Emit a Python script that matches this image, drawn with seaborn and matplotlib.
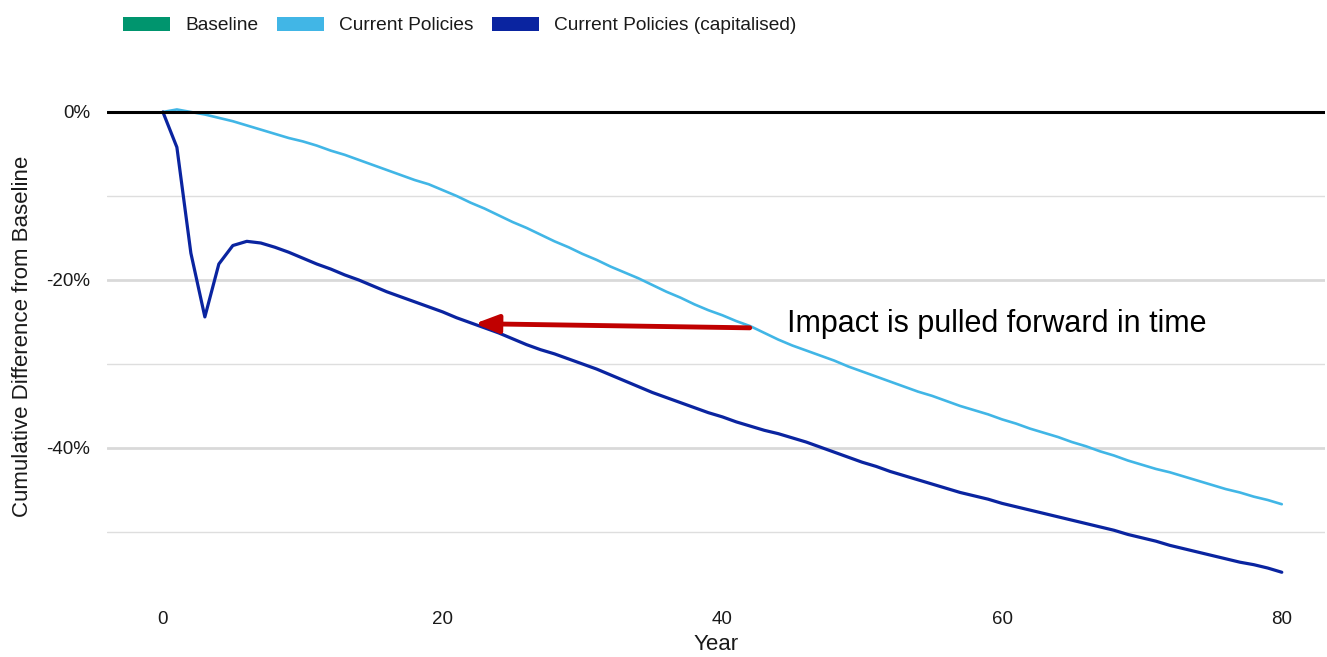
import pandas as pd
import matplotlib.pyplot as plt
import seaborn as sns
from matplotlib.patches import Patch

sns.set_style("white")
plt.rcParams["font.family"] = ["Liberation Sans", "DejaVu Sans"]

# ---- data ----
years = list(range(81))

baseline = [0.0] * 81

current = [0.0, 0.3, 0.0, -0.3, -0.7, -1.1, -1.6, -2.1, -2.6, -3.1,
           -3.5, -4.0, -4.6, -5.1, -5.7, -6.3, -6.9, -7.5, -8.1, -8.6,
           -9.3, -10.0, -10.8, -11.5, -12.3, -13.1, -13.8, -14.6, -15.4, -16.1,
           -16.9, -17.6, -18.4, -19.1, -19.8, -20.6, -21.4, -22.1, -22.9, -23.6,
           -24.2, -24.9, -25.5, -26.3, -27.1, -27.8, -28.4, -29.0, -29.6, -30.3,
           -30.9, -31.5, -32.1, -32.7, -33.3, -33.8, -34.4, -35.0, -35.5, -36.0,
           -36.6, -37.1, -37.7, -38.2, -38.7, -39.3, -39.8, -40.4, -40.9, -41.5,
           -42.0, -42.5, -42.9, -43.4, -43.9, -44.4, -44.9, -45.3, -45.8, -46.2,
           -46.7]

capitalised = [0.0, -4.2, -16.8, -24.4, -18.1, -15.9, -15.4, -15.6, -16.1, -16.7,
               -17.4, -18.1, -18.7, -19.4, -20.0, -20.7, -21.4, -22.0, -22.6, -23.2,
               -23.8, -24.5, -25.1, -25.7, -26.3, -27.0, -27.7, -28.3, -28.8, -29.4,
               -30.0, -30.6, -31.3, -32.0, -32.7, -33.4, -34.0, -34.6, -35.2, -35.8,
               -36.3, -36.9, -37.4, -37.9, -38.3, -38.8, -39.3, -39.9, -40.5, -41.1,
               -41.7, -42.2, -42.8, -43.3, -43.8, -44.3, -44.8, -45.3, -45.7, -46.1,
               -46.6, -47.0, -47.4, -47.8, -48.2, -48.6, -49.0, -49.4, -49.8, -50.3,
               -50.7, -51.1, -51.6, -52.0, -52.4, -52.8, -53.2, -53.6, -53.9, -54.3,
               -54.8]

series_names = ["Baseline", "Current Policies", "Current Policies (capitalised)"]
colors = {"Baseline": "#00956E",
          "Current Policies": "#41B6E6",
          "Current Policies (capitalised)": "#0A24A0"}
widths = {"Baseline": 2.0, "Current Policies": 1.9, "Current Policies (capitalised)": 2.3}

y_ticks = [0, -20, -40]
y_tick_labels = ["0%", "-20%", "-40%"]
x_ticks = [0, 20, 40, 60, 80]

annot_text = "Impact is pulled forward in time"

df = pd.DataFrame({
    "Year": years * 3,
    "value": baseline + current + capitalised,
    "series": [s for s in series_names for _ in years],
})

# ---- figure ----
fig = plt.figure(figsize=(13.27, 6.57), dpi=100)
ax = fig.add_axes([0.0806, 0.0932, 0.918, 0.7747])

# gridlines (major / minor like ggplot)
for y in [-10, -30, -50]:
    ax.axhline(y, color="#DEDEDE", lw=1.0, zorder=0)
for y in [-20, -40]:
    ax.axhline(y, color="#D9D9D9", lw=2.0, zorder=0)

for name in series_names:
    sub = df[df["series"] == name]
    sns.lineplot(data=sub, x="Year", y="value", color=colors[name],
                 lw=widths[name], ax=ax, legend=False, zorder=2)

ax.axhline(0, color="black", lw=2.2, zorder=3)

ax.set_xlim(-4, 83.1)
ax.set_ylim(-57.6, 3.0)
ax.set_xticks(x_ticks)
ax.set_xticklabels([str(x) for x in x_ticks])
ax.set_yticks(y_ticks)
ax.set_yticklabels(y_tick_labels)
ax.tick_params(axis="both", length=0, labelsize=13.5, colors="#1a1a1a")
ax.tick_params(axis="y", pad=12)
ax.tick_params(axis="x", pad=11)
for sp in ax.spines.values():
    sp.set_visible(False)
ax.grid(False)

ax.set_xlabel("Year", fontsize=16, color="#1a1a1a")
ax.set_ylabel("Cumulative Difference from Baseline", fontsize=16, color="#1a1a1a")
ax.yaxis.set_label_coords(-0.061, 0.51)
ax.xaxis.set_label_coords(0.5, -0.075)

# arrow + annotation
ax.annotate("", xy=(22.3, -25.2), xytext=(41.96, -25.7),
            arrowprops=dict(arrowstyle="-|>,head_length=1.4,head_width=0.55",
                            color="#C00000", lw=3.5, mutation_scale=10,
                            shrinkA=0, shrinkB=0),
            zorder=4)
ax.text(44.6, -25.2, annot_text, fontsize=22, ha="left", va="center", color="black")

# legend as filled keys
handles = [Patch(facecolor=colors[n], edgecolor="none") for n in series_names]
fig.legend(handles, series_names, loc="center left", bbox_to_anchor=(0.0927, 0.961),
           ncol=3, frameon=False, fontsize=13.8, handlelength=2.45, handleheight=0.72,
           handletextpad=0.8, columnspacing=0.95, borderpad=0, borderaxespad=0,
           labelcolor="#1a1a1a")

fig.savefig("out.png", dpi=100)
